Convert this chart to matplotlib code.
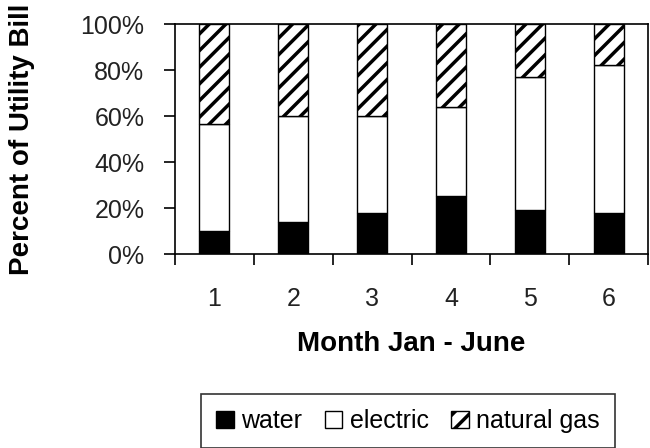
import matplotlib
matplotlib.use("Agg")
import matplotlib.pyplot as plt
import numpy as np

plt.rcParams["font.family"] = ["Liberation Sans", "DejaVu Sans"]
plt.rcParams["hatch.linewidth"] = 2.5

months = [1, 2, 3, 4, 5, 6]
water = [10, 14, 18, 25, 19, 18]
electric = [46.5, 46, 42, 39, 58, 64]
gas = [100 - w - e for w, e in zip(water, electric)]
yticks = [0, 20, 40, 60, 80, 100]

fig = plt.figure(figsize=(6.5, 4.48), dpi=100)
ax = fig.add_axes([175 / 650, 1 - 254 / 448, 473 / 650, 230 / 448])

x = np.array(months)
w = 0.38
ax.bar(x, water, w, color="black", edgecolor="black", linewidth=1, label="water")
ax.bar(x, electric, w, bottom=water, color="white", edgecolor="black", linewidth=1, label="electric")
bottom2 = np.array(water) + np.array(electric)
ax.bar(x, gas, w, bottom=bottom2, color="white", edgecolor="black", linewidth=1,
       hatch="//", label="natural gas")

ax.set_xlim(0.5, 6.5)
ax.set_ylim(0, 100)
ax.set_yticks(yticks)
ax.set_yticklabels([f"{t}%" for t in yticks], fontsize=18, color="#222222")
ax.set_xticks(months)
ax.set_xticklabels([str(m) for m in months], fontsize=18, color="#222222")
ax.set_xticks(np.arange(0.5, 7, 1), minor=True)
ax.tick_params(axis="x", which="major", length=0, pad=24)
ax.tick_params(axis="x", which="minor", length=8, width=1.2, direction="out")
ax.tick_params(axis="y", length=8, width=1.2, direction="out", pad=14)
for s in ax.spines.values():
    s.set_linewidth(1.2)

ax.set_ylabel("Percent of Utility Bill", fontsize=20, fontweight="bold", labelpad=33)
ax.set_xlabel("Month Jan - June", fontsize=20, fontweight="bold", labelpad=14)

leg = fig.legend(loc="center", bbox_to_anchor=(408 / 650, 1 - 421 / 448), ncol=3,
                 fontsize=18, frameon=True, fancybox=False, handlelength=0.7,
                 handleheight=0.7, handletextpad=0.3, columnspacing=0.9,
                 borderpad=0.6, borderaxespad=0)
leg.get_frame().set_edgecolor("black")
leg.get_frame().set_linewidth(1.2)

fig.savefig("out.png", dpi=100)
